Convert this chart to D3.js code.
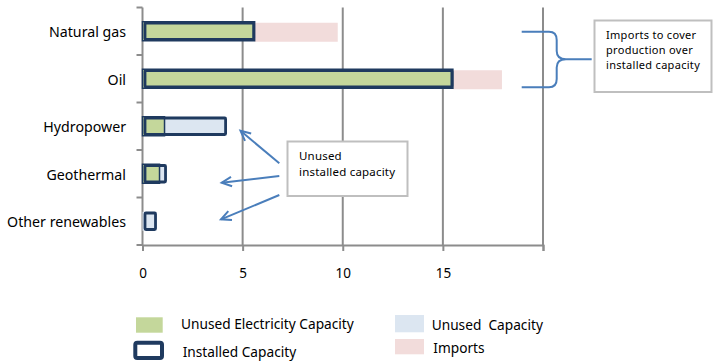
<!DOCTYPE html>
<html>
<head>
<meta charset="utf-8">
<script src="https://cdn.jsdelivr.net/npm/d3@7"></script>
<style>
  body { margin: 0; background: #fff; }
  svg { display: block; }
  text { font-family: "Noto Sans", sans-serif; fill: #000; }
</style>
</head>
<body>
<svg id="chart" width="713" height="362"></svg>
<script>
// Energy sources and capacities (same units on the x axis)
const categories = ["Natural gas", "Oil", "Hydropower", "Geothermal", "Other renewables"];
const usedCapacity = [5.6, 15.5, 1.1, 0.85, 0];
const installedCapacity = [5.6, 15.5, 4.2, 1.2, 0.7];
const imports = [4.15, 2.45, 0, 0, 0];
const xTicks = [0, 5, 10, 15, 20];
const xTickLabels = ["0", "5", "10", "15", ""];
const xDomain = [0, 20];

const legendLabels = ["Unused Electricity Capacity", "Installed Capacity", "Unused  Capacity", "Imports"];
const importsNote = ["Imports to cover", "production over", "installed capacity"];
const unusedNote = ["Unused", "installed capacity"];

const colors = {
  used: "#C4D79B",
  unused: "#DCE6F1",
  imports: "#F2DCDB",
  outline: "#1F3A5F",
  grid: "#8C8C8C",
  callout: "#4A7EBB",
  box: "#BFBFBF"
};

const svg = d3.select("#chart");

const x = d3.scaleLinear().domain(xDomain).range([142.5, 543]);
const yCat = d3.scaleBand().domain(categories).range([7.5, 245]);
const yBar = yCat.copy().paddingInner(0.6).paddingOuter(0.3);

const rows = categories.map((c, i) => ({
  name: c,
  used: usedCapacity[i],
  installed: installedCapacity[i],
  imports: imports[i]
}));

// Vertical gridlines
svg.append("g")
  .selectAll("line")
  .data(xTicks.filter(d => d > 0))
  .join("line")
  .attr("x1", d => x(d)).attr("x2", d => x(d))
  .attr("y1", 7.5).attr("y2", 245)
  .attr("stroke", colors.grid).attr("stroke-width", 2);

// Category axis: line, boundary ticks, labels
const yAxis = svg.append("g");
yAxis.append("line")
  .attr("x1", x(0)).attr("x2", x(0))
  .attr("y1", 7.5).attr("y2", 245)
  .attr("stroke", colors.grid).attr("stroke-width", 2);
const boundaries = categories.map(c => yCat(c)).concat([yCat.range()[1]]);
yAxis.selectAll("line.tick")
  .data(boundaries)
  .join("line")
  .attr("class", "tick")
  .attr("x1", x(0) - 6).attr("x2", x(0))
  .attr("y1", d => d).attr("y2", d => d)
  .attr("stroke", colors.grid).attr("stroke-width", 2);
yAxis.selectAll("text")
  .data(categories)
  .join("text")
  .attr("x", 126)
  .attr("y", d => yCat(d) + yCat.bandwidth() / 2 + 1)
  .attr("dy", "0.35em")
  .attr("text-anchor", "end")
  .attr("font-size", 14.2)
  .text(d => d);

// Value axis
const xAxis = svg.append("g")
  .attr("transform", "translate(0,245)")
  .call(d3.axisBottom(x)
    .tickValues(xTicks)
    .tickFormat((d, i) => xTickLabels[i])
    .tickSize(6)
    .tickPadding(17));
xAxis.select(".domain").attr("stroke", colors.grid).attr("stroke-width", 2);
xAxis.selectAll(".tick line").attr("stroke", colors.grid).attr("stroke-width", 2);
xAxis.selectAll(".tick text")
  .attr("font-family", "Noto Sans, sans-serif")
  .attr("font-size", 13.5)
  .attr("fill", "#000");

// Bars
const bars = svg.append("g");
const h = yBar.bandwidth();

bars.selectAll("rect.imports")
  .data(rows.filter(d => d.imports > 0))
  .join("rect")
  .attr("class", "imports")
  .attr("x", d => x(d.installed))
  .attr("y", d => yBar(d.name) + 1)
  .attr("width", d => x(d.installed + d.imports) - x(d.installed))
  .attr("height", h)
  .attr("fill", colors.imports);

bars.selectAll("rect.unused")
  .data(rows.filter(d => d.installed > d.used))
  .join("rect")
  .attr("class", "unused")
  .attr("x", d => x(d.used))
  .attr("y", d => yBar(d.name))
  .attr("width", d => x(d.installed) - x(d.used))
  .attr("height", h)
  .attr("fill", colors.unused);

bars.selectAll("rect.used")
  .data(rows.filter(d => d.used > 0))
  .join("rect")
  .attr("class", "used")
  .attr("x", x(0))
  .attr("y", d => yBar(d.name))
  .attr("width", d => x(d.used) - x(0))
  .attr("height", h)
  .attr("fill", colors.used)
  .attr("stroke", colors.outline)
  .attr("stroke-width", 1.5);

bars.selectAll("rect.installed")
  .data(rows)
  .join("rect")
  .attr("class", "installed")
  .attr("x", x(0) + 2.5)
  .attr("y", d => yBar(d.name) + 1.25)
  .attr("width", d => x(d.installed) - x(0) - 3.5)
  .attr("height", h - 2.5)
  .attr("rx", 1)
  .attr("fill", "none")
  .attr("stroke", colors.outline)
  .attr("stroke-width", 2.8);

// Callout: imports brace and note
const notes = svg.append("g");
notes.append("path")
  .attr("d", "M521.7,31.7 L549,31.7 Q556.7,31.7 556.7,40 L556.7,51 Q556.7,59.3 566,59.3 L591.7,59.3 M566,59.3 Q556.7,59.3 556.7,67.5 L556.7,79 Q556.7,87.3 549,87.3 L521.7,87.3")
  .attr("fill", "none")
  .attr("stroke", colors.callout)
  .attr("stroke-width", 2);

notes.append("rect")
  .attr("x", 594.5).attr("y", 20.5)
  .attr("width", 117).attr("height", 71.5)
  .attr("fill", "#fff")
  .attr("stroke", colors.box).attr("stroke-width", 2);
notes.selectAll("text.imports-note")
  .data(importsNote)
  .join("text")
  .attr("class", "imports-note")
  .attr("font-size", 11)
  .attr("letter-spacing", 0.3)
  .attr("x", 606)
  .attr("y", (d, i) => 38.5 + i * 15.2)
  .text(d => d);

// Callout: unused installed capacity arrows and note
const arrowHead = (x1, y1, x2, y2) => {
  const a = Math.atan2(y2 - y1, x2 - x1);
  const L = 11, spread = 0.45;
  return `M${x2 + L * Math.cos(a + Math.PI - spread)},${y2 + L * Math.sin(a + Math.PI - spread)}` +
         `L${x2},${y2}` +
         `L${x2 + L * Math.cos(a + Math.PI + spread)},${y2 + L * Math.sin(a + Math.PI + spread)}`;
};
const arrows = [
  [279.3, 163.3, 240.5, 130.8],
  [279.3, 176, 221.7, 182.7],
  [279.3, 195, 221, 219.3]
];
notes.selectAll("line.arrow")
  .data(arrows)
  .join("line")
  .attr("class", "arrow")
  .attr("x1", d => d[0]).attr("y1", d => d[1])
  .attr("x2", d => d[2]).attr("y2", d => d[3])
  .attr("stroke", colors.callout).attr("stroke-width", 2);
notes.selectAll("path.head")
  .data(arrows)
  .join("path")
  .attr("class", "head")
  .attr("d", d => arrowHead(...d))
  .attr("fill", "none")
  .attr("stroke", colors.callout).attr("stroke-width", 2)
  .attr("stroke-linejoin", "miter");

notes.append("rect")
  .attr("x", 287.5).attr("y", 141.5)
  .attr("width", 120).attr("height", 54.5)
  .attr("fill", "#fff")
  .attr("stroke", colors.box).attr("stroke-width", 2);
notes.selectAll("text.unused-note")
  .data(unusedNote)
  .join("text")
  .attr("class", "unused-note")
  .attr("font-size", 11.5)
  .attr("letter-spacing", 0.2)
  .attr("x", 299)
  .attr("y", (d, i) => 159.5 + i * 16)
  .text(d => d);

// Legend
const legend = svg.append("g");
legend.append("rect")
  .attr("x", 136).attr("y", 317.3).attr("width", 26.7).attr("height", 15.4)
  .attr("fill", colors.used);
legend.append("rect")
  .attr("x", 135.3).attr("y", 342.7).attr("width", 26.7).attr("height", 15.3)
  .attr("rx", 2)
  .attr("fill", "#fff")
  .attr("stroke", colors.outline).attr("stroke-width", 4);
legend.append("rect")
  .attr("x", 395).attr("y", 315).attr("width", 29).attr("height", 17.3)
  .attr("fill", colors.unused);
legend.append("rect")
  .attr("x", 395).attr("y", 339).attr("width", 29).attr("height", 15.3)
  .attr("fill", colors.imports);

const legendPos = [[181, 329], [182.7, 356.5], [431.7, 330], [433.3, 353]];
legend.selectAll("text.legend-label")
  .data(legendLabels)
  .join("text")
  .attr("class", "legend-label")
  .attr("x", (d, i) => legendPos[i][0])
  .attr("y", (d, i) => legendPos[i][1])
  .attr("font-size", 13.7)
  .attr("xml:space", "preserve")
  .style("white-space", "pre")
  .text(d => d);
</script>
</body>
</html>
